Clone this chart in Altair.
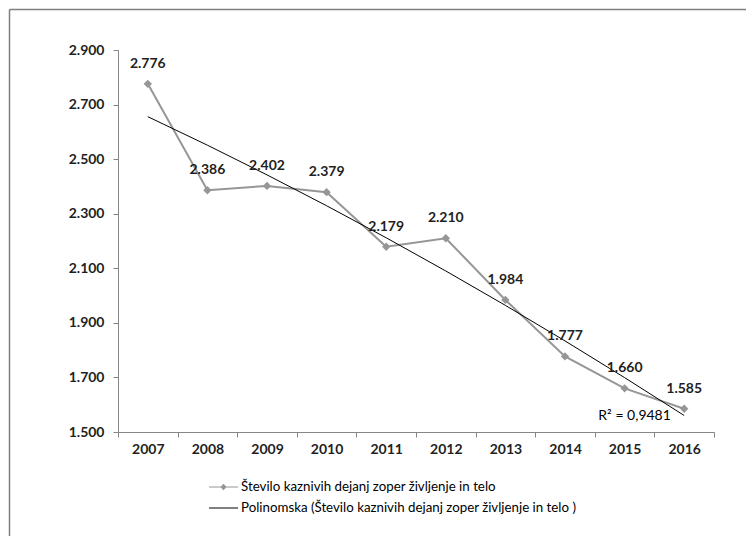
import altair as alt
import pandas as pd
import numpy as np

years = [2007, 2008, 2009, 2010, 2011, 2012, 2013, 2014, 2015, 2016]
values = [2776, 2386, 2402, 2379, 2179, 2210, 1984, 1777, 1660, 1585]
series_names = [
    "Število kaznivih dejanj zoper življenje in telo",
    "Polinomska (Število kaznivih dejanj zoper življenje in telo )",
]
y_ticks = [1500, 1700, 1900, 2100, 2300, 2500, 2700, 2900]
r2_label = "R² = 0,9481"
r2_year = 2015
r2_value = 1558

# second-order polynomial trendline fitted to the data (as the original chart does)
idx = np.arange(len(years))
coef = np.polyfit(idx, values, 2)
trend = np.polyval(coef, idx)

df = pd.DataFrame({"year": years, "value": values})
tdf = pd.DataFrame({"year": years, "value": trend})
rdf = pd.DataFrame({"year": [r2_year], "value": [r2_value], "t": [r2_label]})
ldf = pd.DataFrame({"series": series_names, "value": [None, None]})
fdf = pd.DataFrame({"a": [0]})

FONT = "Lato"
TXT = "#1f1f1f"
AX = "#868686"
W, H = 596, 382

x_enc = alt.X(
    "year:O",
    title=None,
    scale=alt.Scale(paddingInner=0, paddingOuter=0),
    axis=alt.Axis(
        labelAngle=0, tickBand="extent", domainColor=AX, tickColor=AX,
        tickSize=5, labelFont=FONT, labelFontSize=14, labelFontWeight="bold",
        labelColor=TXT, labelPadding=5, grid=False,
    ),
)
y_enc = alt.Y(
    "value:Q",
    title=None,
    scale=alt.Scale(domain=[1500, 2900], nice=False, zero=False),
    axis=alt.Axis(
        values=y_ticks, domainColor=AX, tickColor=AX, tickSize=5,
        labelFont=FONT, labelFontSize=14, labelFontWeight="bold",
        labelColor=TXT, labelPadding=9, grid=False,
        labelExpr="replace(format(datum.value, ',d'), ',', '.')",
    ),
)

line = alt.Chart(df).mark_line(color="#969696", strokeWidth=2).encode(x=x_enc, y=y_enc)
trend_line = alt.Chart(tdf).mark_line(color="#000000", strokeWidth=1).encode(x=x_enc, y=y_enc)
points = alt.Chart(df).mark_point(
    shape="diamond", filled=True, size=70, color="#969696", opacity=1
).encode(x=x_enc, y=y_enc)
labels = alt.Chart(df).transform_calculate(
    lbl="replace(format(datum.value, ',d'), ',', '.')"
).mark_text(
    dy=-20, font=FONT, fontSize=14, fontWeight="bold", color=TXT, baseline="middle"
).encode(x=x_enc, y=y_enc, text="lbl:N")
r2 = alt.Chart(rdf).mark_text(
    dx=10, font=FONT, fontSize=14, color="#000000", baseline="middle"
).encode(x=x_enc, y=y_enc, text="t:N")

p1 = "M-1.45,-0.05L1.45,-0.05L1.45,0.05L-1.45,0.05Z M-0.32,0L0,-0.32L0.32,0L0,0.32Z"
p2 = "M-1.45,-0.05L1.45,-0.05L1.45,0.05L-1.45,0.05Z"
leg = alt.Legend(
    orient="none", legendX=95.5, legendY=427, direction="vertical", title=None,
    labelFont=FONT, labelFontSize=13.3, labelColor="#000000", symbolSize=400,
    symbolStrokeWidth=0, rowPadding=4, labelOffset=7.5, labelLimit=0, padding=0,
)
legend_layer = alt.Chart(ldf).mark_point(filled=True, opacity=1, invalid="filter").encode(
    y=y_enc,
    color=alt.Color("series:N", scale=alt.Scale(domain=series_names, range=["#969696", "#000000"]), legend=leg),
    shape=alt.Shape("series:N", scale=alt.Scale(domain=series_names, range=[p1, p2]), legend=leg),
)

frame_top = alt.Chart(fdf).mark_rule(color="#7f7f7f", strokeWidth=1.5).encode(
    x=alt.value(-108.5), x2=alt.value(628), y=alt.value(-40.5)
)
frame_left = alt.Chart(fdf).mark_rule(color="#7f7f7f", strokeWidth=1.5).encode(
    x=alt.value(-108.5), y=alt.value(-40.5), y2=alt.value(486)
)

chart = alt.layer(
    frame_top, frame_left, line, trend_line, points, labels, r2, legend_layer
).properties(width=W, height=H, padding=0).configure_view(stroke=None)

chart.save("out.html", embed_options={"renderer": "svg", "actions": False})
